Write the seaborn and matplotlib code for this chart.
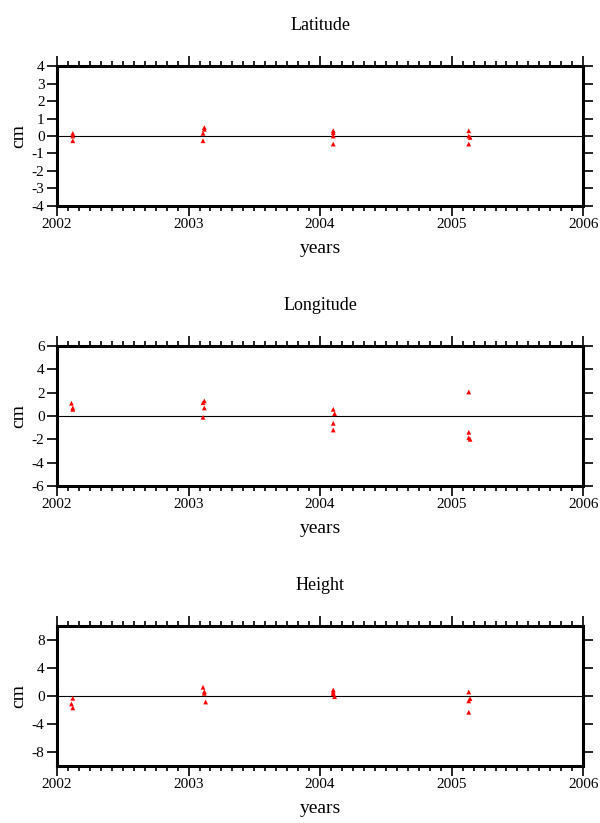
import numpy as np
import pandas as pd
import matplotlib
matplotlib.use('Agg')
import matplotlib.pyplot as plt
import seaborn as sns
from matplotlib.ticker import MultipleLocator

sns.set_theme(style='ticks')
plt.rcParams['font.family'] = ['Liberation Serif', 'DejaVu Serif']
plt.rcParams['axes.unicode_minus'] = False

# epochs of each campaign (decimal years)
lat_t = [2002.12, 2002.12, 2002.12, 2003.12, 2003.12, 2003.11, 2003.11,
         2004.10, 2004.10, 2004.10, 2004.10, 2005.13, 2005.13, 2005.14, 2005.13]
lat_cm = [0.15, 0.0, -0.27, 0.48, 0.38, 0.15, -0.27,
          0.3, 0.19, 0.0, -0.46, 0.3, 0.0, -0.08, -0.46]

lon_t = [2002.11, 2002.12, 2002.12, 2003.12, 2003.11, 2003.12, 2003.11,
         2004.10, 2004.11, 2004.10, 2004.10, 2005.13, 2005.13, 2005.13, 2005.14]
lon_cm = [1.09, 0.69, 0.57, 1.29, 1.14, 0.69, -0.11,
          0.57, 0.2, -0.63, -1.2, 2.06, -1.4, -1.86, -2.0]

hgt_t = [2002.12, 2002.11, 2002.12, 2003.11, 2003.12, 2003.12, 2003.13,
         2004.10, 2004.10, 2004.10, 2004.11, 2005.13, 2005.14, 2005.13, 2005.13]
hgt_cm = [-0.33, -1.14, -1.7, 1.24, 0.62, 0.38, -0.86,
          0.86, 0.57, 0.33, -0.1, 0.57, -0.38, -0.7, -2.33]

titles = ['Latitude', 'Longitude', 'Height']
ylims = [4, 6, 10]
ysteps = [1, 2, 4]
year_ticks = [2002, 2003, 2004, 2005, 2006]

panels = [(lat_t, lat_cm), (lon_t, lon_cm), (hgt_t, hgt_cm)]
bottoms = [0.7497, 0.4095, 0.0693]

fig = plt.figure(figsize=(6, 8.23), dpi=100)

for (t, v), title, lim, step, b in zip(panels, titles, ylims, ysteps, bottoms):
    ax = fig.add_axes([0.095, b, 0.877, 0.1701])
    df = pd.DataFrame({'year': t, 'cm': v})
    ax.axhline(0, color='black', lw=0.8, zorder=1)
    sns.scatterplot(data=df, x='year', y='cm', marker='^', color='red',
                    s=12, edgecolor='none', ax=ax, zorder=3)
    ax.set_xlim(2002, 2006)
    ax.set_ylim(-lim, lim)
    ax.set_xticks(year_ticks)
    ax.set_xticklabels([str(y) for y in year_ticks], fontsize=11)
    ax.xaxis.set_minor_locator(MultipleLocator(1 / 12))
    ax.yaxis.set_major_locator(MultipleLocator(step))
    ax.tick_params(axis='y', labelsize=11)
    ax.tick_params(which='major', direction='out', length=7, width=1.2,
                   color='black', labelcolor='black',
                   top=True, right=True, labelright=False, pad=2)
    ax.tick_params(which='minor', axis='x', direction='out', length=3.5,
                   width=1.2, color='black', top=True, bottom=True)
    for sp in ax.spines.values():
        sp.set_linewidth(2.2)
        sp.set_color('black')
        sp.set_visible(True)
    ax.set_xlabel('years', fontsize=14, labelpad=6, color='black')
    ax.set_ylabel('cm', fontsize=14, labelpad=3, color='black')
    ax.set_title(title, fontsize=13, pad=26, color='black')

fig.savefig('out.png', dpi=100)
